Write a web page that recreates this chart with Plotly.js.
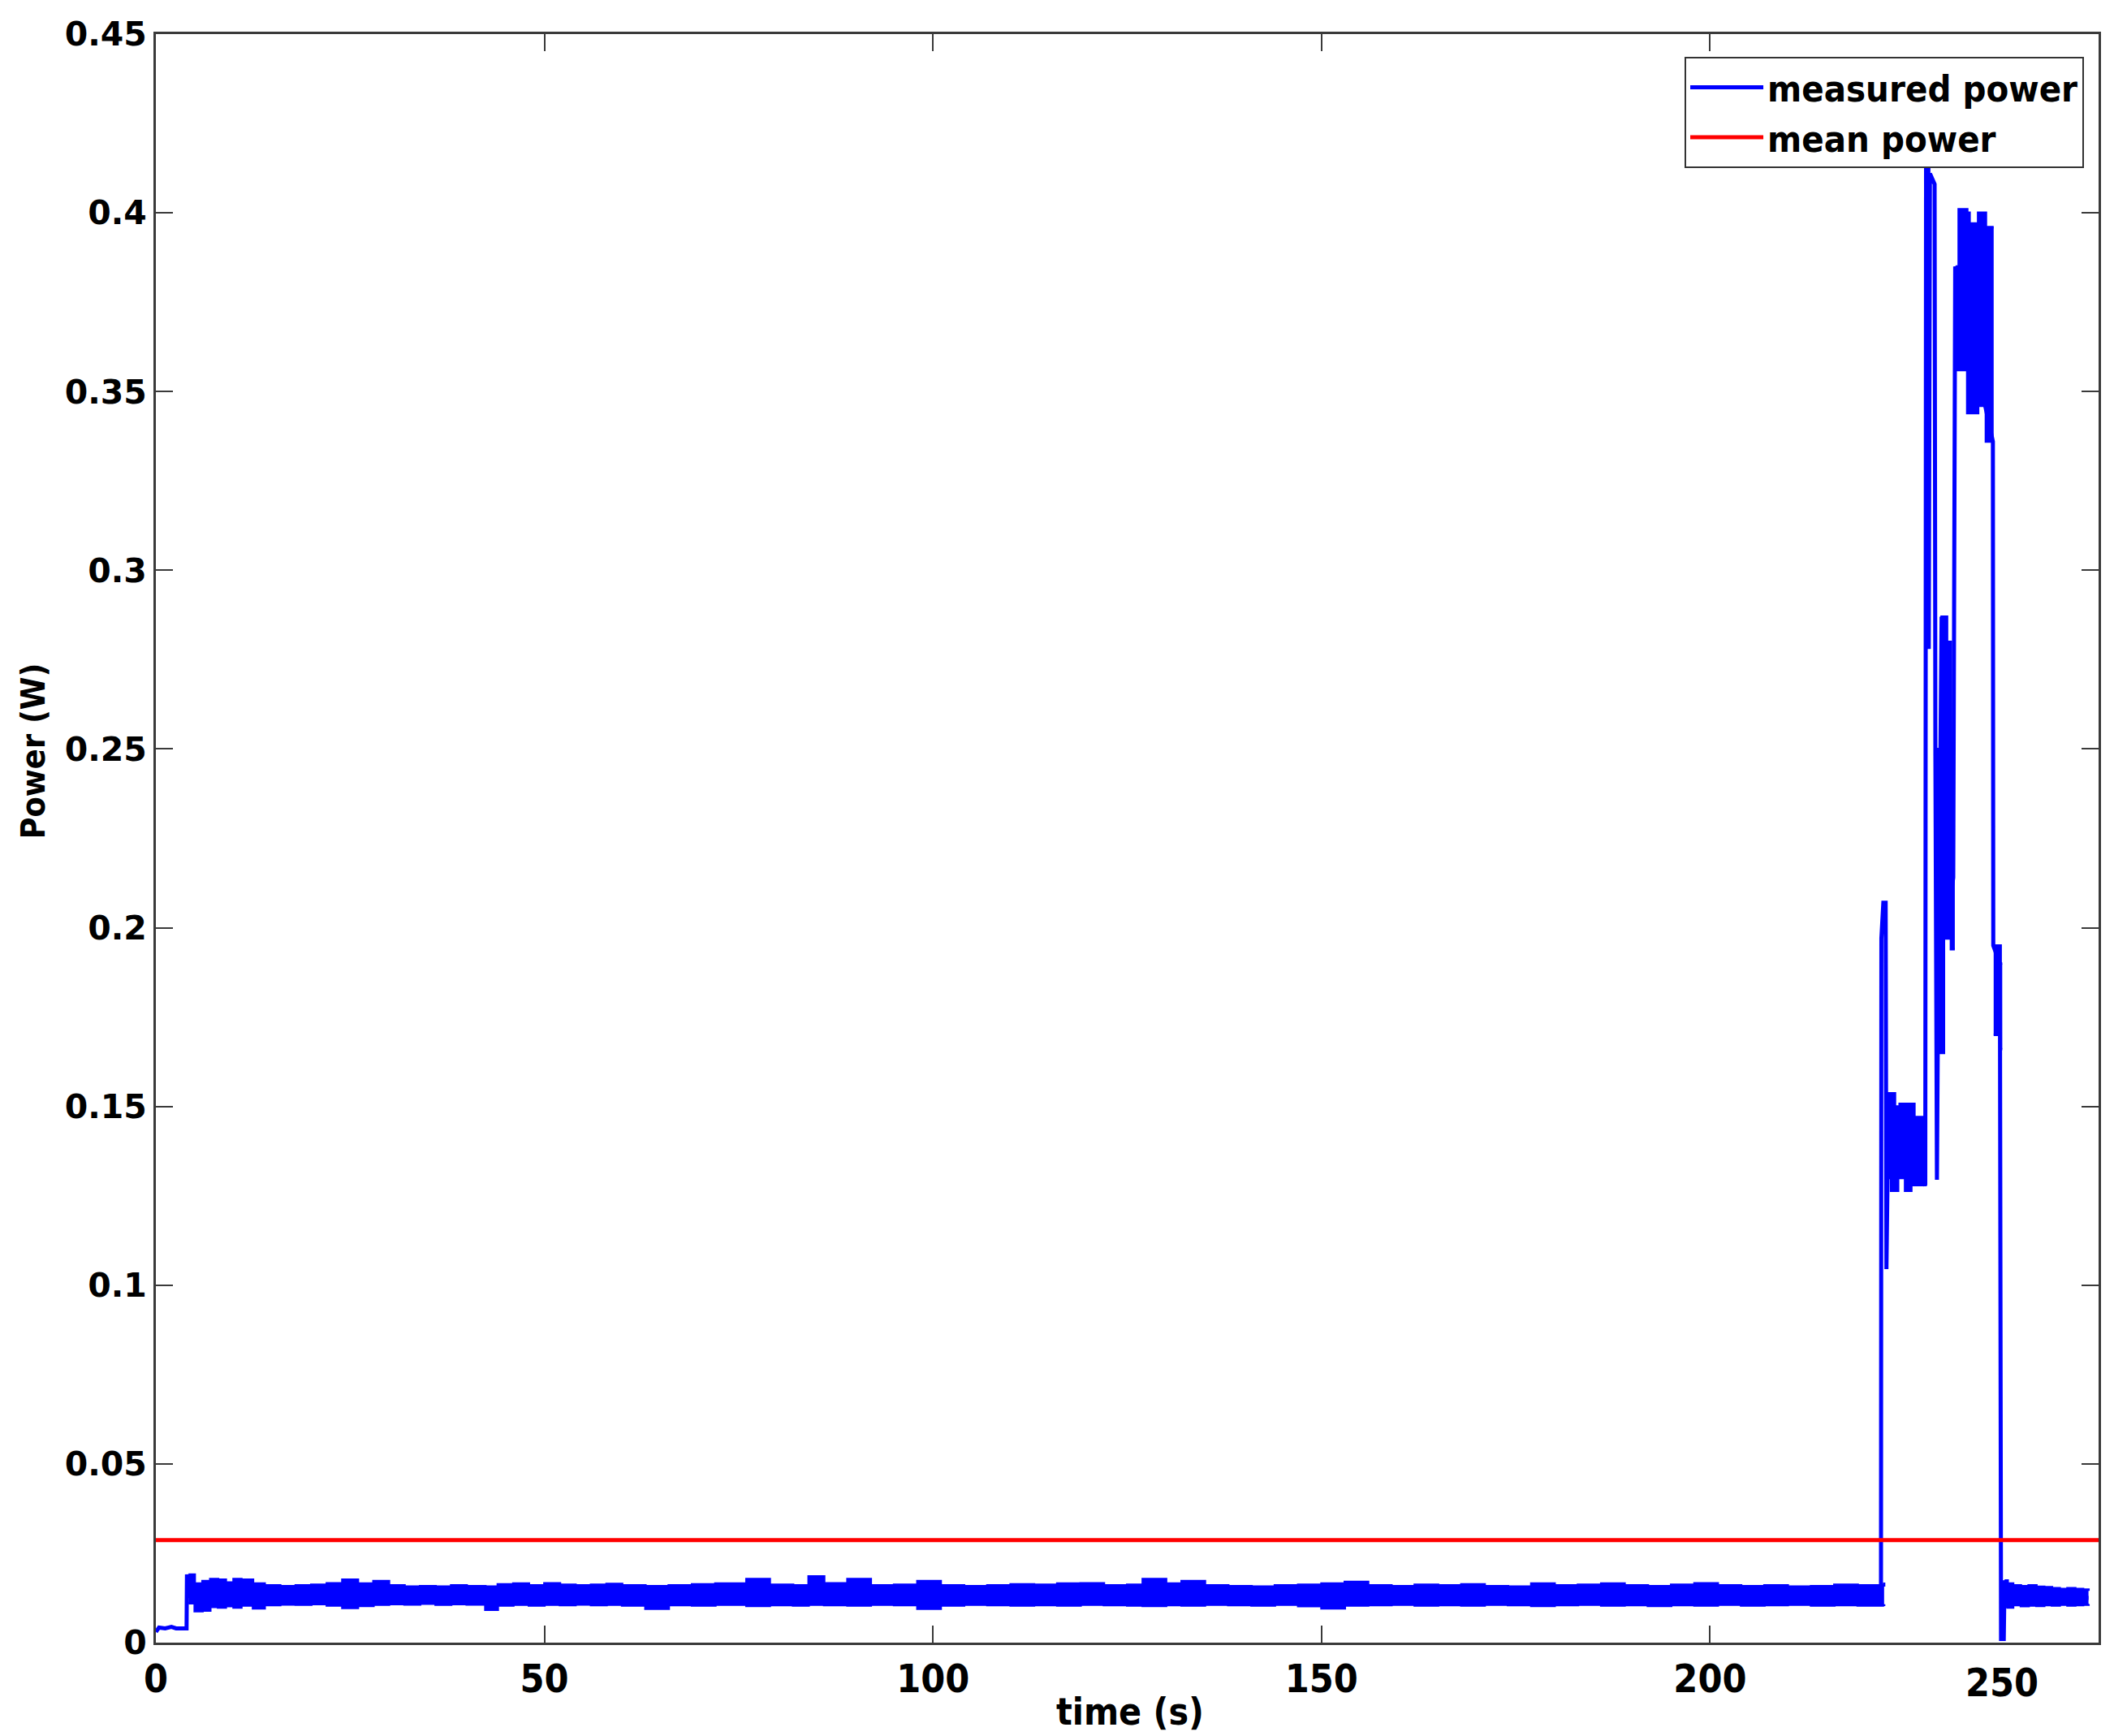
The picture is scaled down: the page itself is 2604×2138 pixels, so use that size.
<!DOCTYPE html>
<html><head><meta charset="utf-8">
<script src="https://cdn.plot.ly/plotly-3.0.1.min.js"></script>
<style>html,body{margin:0;padding:0;background:#fff}#chart{width:2604px;height:2138px}</style>
</head><body><div id="chart"></div>
<script>
// ---- measured power: main path (time in s, power in W) ----
const measTime  = [0, 0.4, 1.2, 2.0, 2.6, 3.95, 4.0, 4.3, 222.0, 222.05, 222.3, 222.6, 222.7, 222.9, 227.7, 227.8, 228.1, 228.15, 228.3, 228.9, 229.0, 229.2, 229.3, 229.8, 230.3, 231.3, 231.55, 236.4, 236.45, 237.3, 237.45, 237.8, 237.9, 238.2, 248.7];
const measPower = [0.003, 0.0042, 0.0040, 0.0044, 0.0040, 0.0040, 0.0191, 0.0130, 0.0130, 0.197, 0.207, 0.207, 0.1045, 0.140, 0.128, 0.4125, 0.4125, 0.278, 0.411, 0.408, 0.248, 0.1295, 0.165, 0.287, 0.198, 0.214, 0.385, 0.336, 0.195, 0.190, 0.0010, 0.0010, 0.0174, 0.0130, 0.0125];

// ---- noise band of the idle baseline (upper / lower envelope) ----
const baseTime  = [4.2, 5, 6, 7, 8, 9, 10, 11, 12.5, 14, 16, 18, 20, 22, 24, 26, 28, 30, 32, 34, 36, 38, 40, 42.4, 44, 46, 48, 50, 52, 54, 56, 58, 60, 63, 66, 69, 72, 76, 79, 82, 84, 86, 89, 92, 95, 98, 101, 104, 107, 110, 113, 116, 119, 122, 125, 127, 130, 132, 135, 138, 141, 144, 147, 150, 153, 156, 159, 162, 165, 168, 171, 174, 177, 180, 183, 186, 189, 192, 195, 198, 201, 204, 207, 210, 213, 216, 219, 222.4];
const baseUpper = [0.0190, 0.0165, 0.0172, 0.0178, 0.0176, 0.0168, 0.0178, 0.0176, 0.0165, 0.0160, 0.0158, 0.0160, 0.0162, 0.0166, 0.0176, 0.0165, 0.0172, 0.0160, 0.0157, 0.0158, 0.0157, 0.0160, 0.0158, 0.0157, 0.0163, 0.0165, 0.0160, 0.0166, 0.0162, 0.0160, 0.0162, 0.0164, 0.0160, 0.0158, 0.0160, 0.0163, 0.0165, 0.0178, 0.0162, 0.0160, 0.0185, 0.0166, 0.0178, 0.0160, 0.0162, 0.0172, 0.0160, 0.0158, 0.0160, 0.0163, 0.0162, 0.0165, 0.0166, 0.0160, 0.0162, 0.0178, 0.0165, 0.0172, 0.0160, 0.0158, 0.0157, 0.0160, 0.0162, 0.0165, 0.0170, 0.0160, 0.0158, 0.0162, 0.0160, 0.0163, 0.0158, 0.0157, 0.0165, 0.0160, 0.0162, 0.0165, 0.0160, 0.0158, 0.0162, 0.0166, 0.0160, 0.0158, 0.0160, 0.0157, 0.0158, 0.0162, 0.0160, 0.0168];
const baseLower = [0.0110, 0.0088, 0.0090, 0.0100, 0.0098, 0.0102, 0.0098, 0.0104, 0.0096, 0.0105, 0.0107, 0.0106, 0.0108, 0.0104, 0.0097, 0.0103, 0.0106, 0.0108, 0.0107, 0.0109, 0.0106, 0.0108, 0.0107, 0.0092, 0.0104, 0.0106, 0.0104, 0.0106, 0.0105, 0.0107, 0.0105, 0.0106, 0.0104, 0.0095, 0.0105, 0.0104, 0.0106, 0.0103, 0.0105, 0.0104, 0.0106, 0.0105, 0.0104, 0.0106, 0.0105, 0.0095, 0.0104, 0.0106, 0.0105, 0.0104, 0.0105, 0.0104, 0.0106, 0.0105, 0.0104, 0.0103, 0.0105, 0.0104, 0.0106, 0.0105, 0.0104, 0.0106, 0.0102, 0.0096, 0.0104, 0.0105, 0.0106, 0.0104, 0.0105, 0.0104, 0.0106, 0.0105, 0.0103, 0.0105, 0.0106, 0.0104, 0.0105, 0.0103, 0.0105, 0.0104, 0.0106, 0.0104, 0.0105, 0.0106, 0.0104, 0.0105, 0.0104, 0.0102];

// ---- noise band after the activity burst ----
const tailTime  = [237.9, 238.3, 239, 240, 241, 242, 243, 244, 245, 246, 247, 248, 248.7];
const tailUpper = [0.0174, 0.0165, 0.0160, 0.0158, 0.0160, 0.0156, 0.0155, 0.0152, 0.0150, 0.0152, 0.0150, 0.0148, 0.0145];
const tailLower = [0.0100, 0.0098, 0.0105, 0.0102, 0.0104, 0.0103, 0.0105, 0.0104, 0.0106, 0.0104, 0.0105, 0.0106, 0.0108];

// ---- dense oscillation blocks during the burst ----
const burst1Time  = [222.6, 223.3, 223.8, 224.2, 224.4, 225.1, 225.9, 226.3, 227.5, 227.9];
const burst1Upper = [0.1537, 0.1537, 0.150, 0.150, 0.1507, 0.1507, 0.1507, 0.147, 0.138, 0.138];
const burst1Lower = [0.130, 0.1264, 0.1264, 0.130, 0.130, 0.1264, 0.128, 0.128, 0.128, 0.128];

const burst2Time  = [229.2, 229.8, 230.1, 230.5, 231.0, 231.5];
const burst2Upper = [0.250, 0.287, 0.287, 0.280, 0.240, 0.240];
const burst2Lower = [0.165, 0.165, 0.197, 0.197, 0.194, 0.194];

const burst3Time  = [231.6, 232.0, 233.1, 233.4, 234.5, 235.5, 236.5];
const burst3Upper = [0.385, 0.401, 0.400, 0.397, 0.400, 0.396, 0.396];
const burst3Lower = [0.356, 0.356, 0.344, 0.344, 0.346, 0.336, 0.336];

const burst4Time  = [236.5, 237.4, 237.6];
const burst4Upper = [0.195, 0.190, 0.190];
const burst4Lower = [0.170, 0.166, 0.166];

// ---- mean power ----
const meanTime  = [0, 250];
const meanPower = [0.0287, 0.0287];

// ---- axis ticks ----
const xTickVals = [0, 50, 100, 150, 200];
const xTickText = ['0', '50', '100', '150', '200'];
const xLastLabel = '250';
const yTickVals = [0, 0.05, 0.1, 0.15, 0.2, 0.25, 0.3, 0.35, 0.4, 0.45];
const yTickText = ['0', '0.05', '0.1', '0.15', '0.2', '0.25', '0.3', '0.35', '0.4', '0.45'];

const BLUE = '#0000ff';
const RED = '#ff0000';
const NARROW = 'Liberation Sans Narrow, DejaVu Sans Condensed, Roboto, sans-serif';

function band(t, lo, hi) {
  return [
    {x: t, y: lo, type: 'scatter', mode: 'lines', line: {color: BLUE, width: 3, shape: 'hv'},
     showlegend: false, legendgroup: 'meas', hoverinfo: 'skip'},
    {x: t, y: hi, type: 'scatter', mode: 'lines', line: {color: BLUE, width: 3, shape: 'hv'},
     fill: 'tonexty', fillcolor: BLUE, showlegend: false, legendgroup: 'meas', hoverinfo: 'skip'}
  ];
}

const traces = [
  {x: measTime, y: measPower, type: 'scatter', mode: 'lines', name: 'measured power',
   legendgroup: 'meas', line: {color: BLUE, width: 5}},
  ...band(baseTime, baseLower, baseUpper),
  ...band(tailTime, tailLower, tailUpper),
  ...band(burst1Time, burst1Lower, burst1Upper),
  ...band(burst2Time, burst2Lower, burst2Upper),
  ...band(burst3Time, burst3Lower, burst3Upper),
  ...band(burst4Time, burst4Lower, burst4Upper),
  {x: meanTime, y: meanPower, type: 'scatter', mode: 'lines', name: 'mean power',
   line: {color: RED, width: 5}}
];

const axisCommon = {
  showline: true, linecolor: '#3a3a3a', linewidth: 3, mirror: 'ticks',
  ticks: 'inside', ticklen: 21, tickwidth: 2, tickcolor: '#3a3a3a',
  showgrid: false, zeroline: false
};

const layout = {
  width: 2604, height: 2138,
  margin: {l: 192, r: 19, t: 42, b: 115},
  paper_bgcolor: '#ffffff', plot_bgcolor: '#ffffff',
  showlegend: true,
  xaxis: Object.assign({}, axisCommon, {
    range: [0, 250], tickmode: 'array', tickvals: xTickVals, ticktext: xTickText,
    tickfont: {family: NARROW, size: 48, color: '#000', weight: 'bold'}
  }),
  yaxis: Object.assign({}, axisCommon, {
    range: [0, 0.45], tickmode: 'array', tickvals: yTickVals, ticktext: yTickText,
    tickfont: {family: 'DejaVu Sans', size: 41, color: '#000', weight: 'bold'}
  }),
  legend: {
    x: 0.9925, y: 0.986, xanchor: 'right', yanchor: 'top',
    bgcolor: '#ffffff', bordercolor: '#333333', borderwidth: 2,
    font: {family: NARROW, size: 45, color: '#000', weight: 'bold'},
    itemwidth: 90, tracegroupgap: 0
  },
  annotations: [
    {text: xLastLabel, xref: 'x', yref: 'paper', x: 237.6, y: -0.0245, yanchor: 'middle', xanchor: 'center',
     showarrow: false, font: {family: NARROW, size: 48, color: '#000', weight: 'bold'}},
    {text: 'time (s)', xref: 'paper', yref: 'paper', x: 0.5015, y: -0.043, yanchor: 'middle', xanchor: 'center',
     showarrow: false, font: {family: NARROW, size: 46, color: '#000', weight: 'bold'}},
    {text: 'Power (W)', xref: 'paper', yref: 'paper', x: -0.0635, y: 0.554, textangle: -90,
     xanchor: 'center', yanchor: 'middle', showarrow: false,
     font: {family: NARROW, size: 41, color: '#000', weight: 'bold'}}
  ]
};

Plotly.newPlot('chart', traces, layout, {staticPlot: true, displayModeBar: false});
</script>
</body></html>
